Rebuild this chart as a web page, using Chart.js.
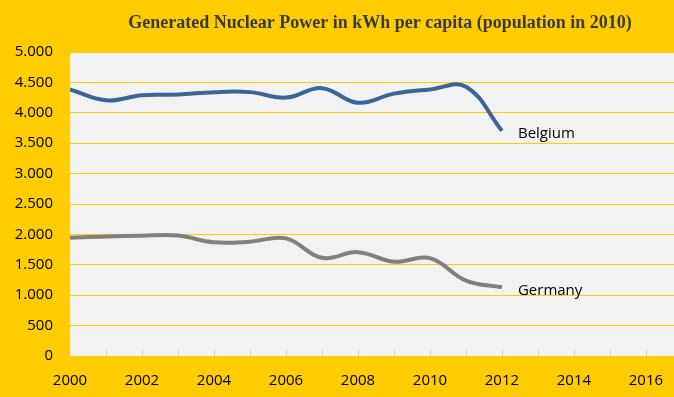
<!DOCTYPE html>
<html>
<head>
<meta charset="utf-8">
<script src="https://cdn.jsdelivr.net/npm/chart.js@4/dist/chart.umd.min.js"></script>
<style>
  html, body { margin: 0; padding: 0; background: #FFCC00; }
  canvas { display: block; }
</style>
</head>
<body>
<canvas id="chart" width="674" height="397"></canvas>
<script>
const years = [2000, 2001, 2002, 2003, 2004, 2005, 2006, 2007, 2008, 2009, 2010, 2011, 2012]
const belgium = [4385, 4205, 4290, 4300, 4340, 4340, 4250, 4405, 4165, 4315, 4385, 4430, 3705]
const germany = [1945, 1967, 1978, 1980, 1870, 1880, 1935, 1615, 1708, 1550, 1610, 1240, 1130]
const seriesNames = ["Belgium", "Germany"]
const yTicks = [0, 500, 1000, 1500, 2000, 2500, 3000, 3500, 4000, 4500, 5000]
const xLabels = [2000, 2002, 2004, 2006, 2008, 2010, 2012, 2014, 2016]
const titleText = "Generated Nuclear Power in kWh per capita (population in 2010)"

function toPoints(values) {
  return values.map((v, i) => ({ x: years[i], y: v }))
}

function formatThousands(v) {
  return v >= 1000 ? String(v).replace(/(\d)(\d{3})$/, "$1.$2") : String(v)
}

// plot background, year tick marks, series names and title
const decorations = {
  id: "decorations",
  beforeDraw(chart) {
    const { ctx, chartArea: a } = chart
    ctx.save()
    ctx.fillStyle = "#F2F2F2"
    ctx.fillRect(a.left, a.top, a.right - a.left, a.bottom - a.top)
    ctx.restore()
  },
  afterDraw(chart) {
    const { ctx, chartArea: a } = chart
    const xs = chart.scales.x
    ctx.save()
    ctx.strokeStyle = "#E8CF70"
    ctx.lineWidth = 1
    for (let yr = 2001; yr <= 2016; yr++) {
      const px = Math.round(xs.getPixelForValue(yr)) + 0.5
      ctx.beginPath()
      ctx.moveTo(px, a.bottom)
      ctx.lineTo(px, a.bottom - 6)
      ctx.stroke()
    }
    ctx.font = "15px 'Open Sans', sans-serif"
    ctx.fillStyle = "#000000"
    ctx.textBaseline = "middle"
    chart.data.datasets.forEach((ds, i) => {
      const meta = chart.getDatasetMeta(i)
      const last = meta.data[meta.data.length - 1]
      ctx.fillText(seriesNames[i], last.x + 16, last.y + 3)
    })
    ctx.font = "bold 18px 'Liberation Serif', serif"
    ctx.fillStyle = "#3A3A3A"
    ctx.textAlign = "center"
    ctx.fillText(titleText, 380, 23)
    ctx.restore()
  }
}

new Chart(document.getElementById("chart"), {
  type: "line",
  data: {
    datasets: [
      {
        label: seriesNames[0],
        data: toPoints(belgium),
        borderColor: "#3B6598",
        borderWidth: 4,
        pointRadius: 0,
        tension: 0.4,
        fill: false
      },
      {
        label: seriesNames[1],
        data: toPoints(germany),
        borderColor: "#808080",
        borderWidth: 4,
        pointRadius: 0,
        tension: 0.4,
        fill: false
      }
    ]
  },
  options: {
    responsive: false,
    animation: false,
    devicePixelRatio: 1,
    layout: { padding: { top: 52, right: 0, left: 0, bottom: 0 } },
    plugins: {
      legend: { display: false },
      tooltip: { enabled: false },
      title: { display: false }
    },
    scales: {
      x: {
        type: "linear",
        min: 2000,
        max: 2016.78,
        afterBuildTicks(scale) {
          scale.ticks = xLabels.map(v => ({ value: v }))
        },
        afterFit(scale) { scale.height = 41 },
        ticks: {
          color: "#000000",
          font: { family: "'Open Sans', sans-serif", size: 15 },
          padding: 8,
          maxRotation: 0,
          autoSkip: false,
          callback: v => String(v)
        },
        grid: { display: false },
        border: { display: false }
      },
      y: {
        min: 0,
        max: 5000,
        afterBuildTicks(scale) {
          scale.ticks = yTicks.map(v => ({ value: v }))
        },
        afterFit(scale) { scale.width = 70 },
        ticks: {
          color: "#000000",
          font: { family: "'Open Sans', sans-serif", size: 15 },
          padding: 17,
          autoSkip: false,
          callback: v => formatThousands(v)
        },
        grid: { color: "#FFCC00", lineWidth: 1, drawTicks: false },
        border: { display: false }
      }
    }
  },
  plugins: [decorations]
})
</script>
</body>
</html>
